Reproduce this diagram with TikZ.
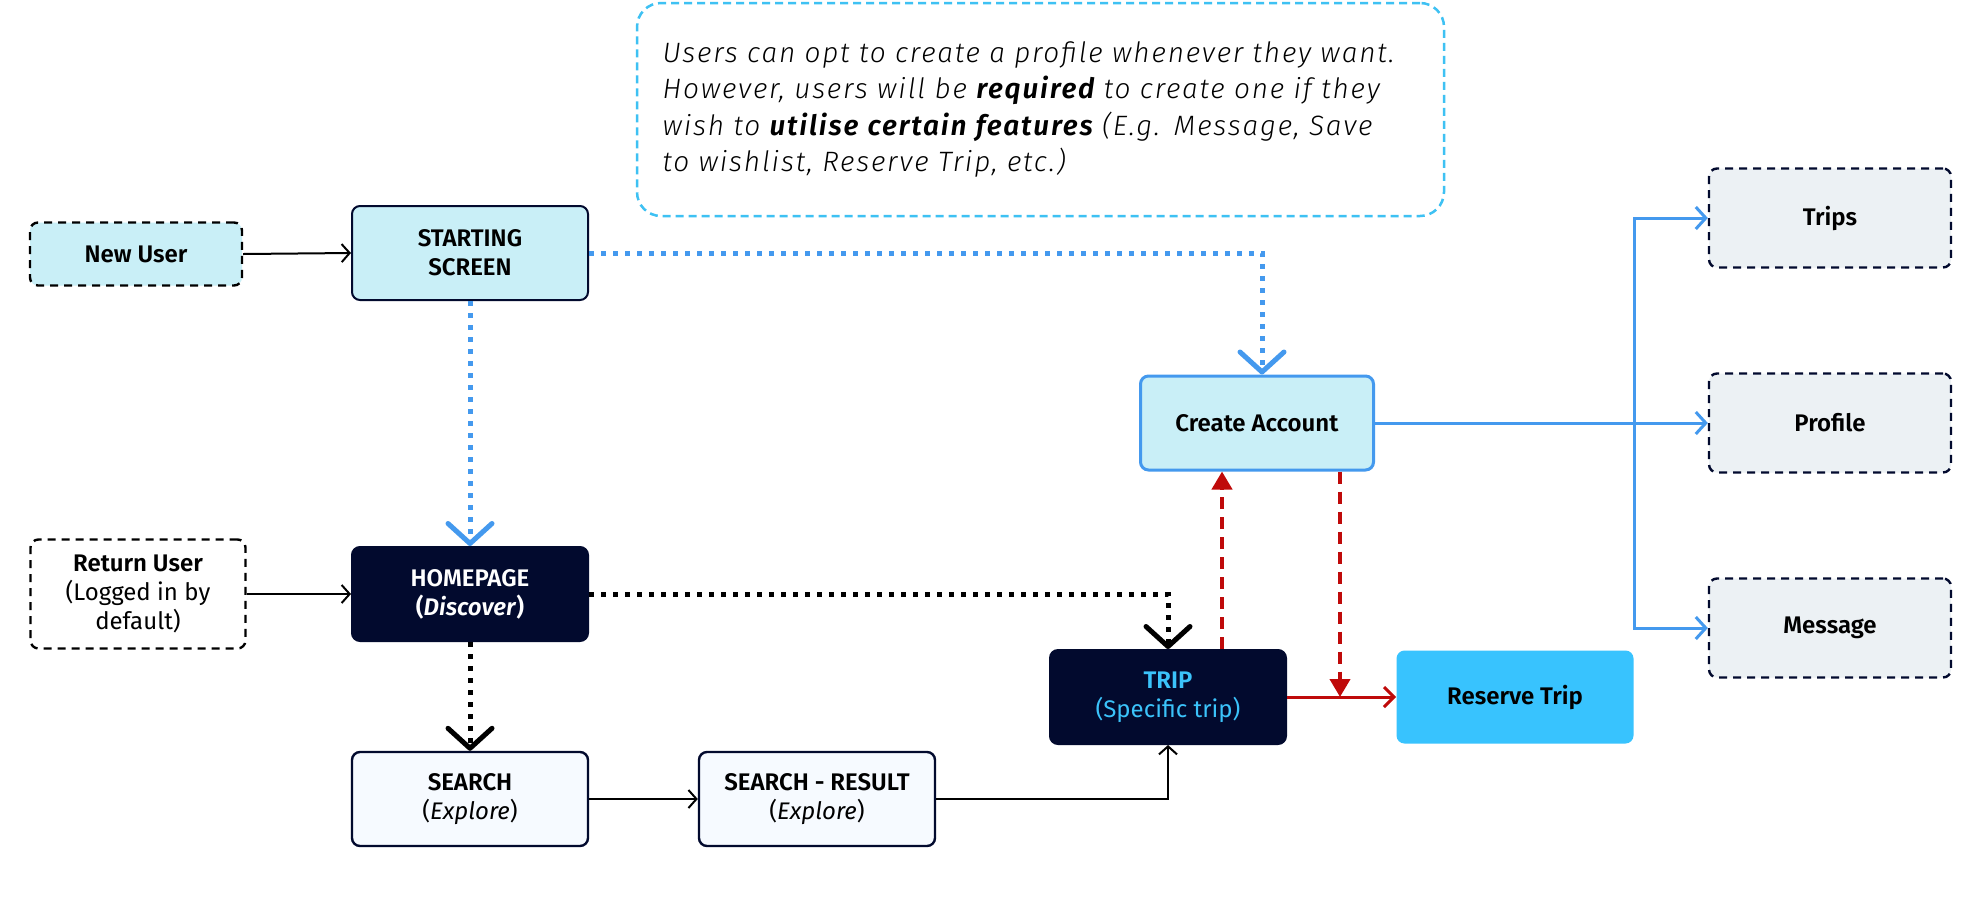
\documentclass[tikz,border=0pt]{standalone}
\usepackage{fontspec}
\setmainfont{Fira Sans}[BoldFont={Fira Sans SemiBold},BoldItalicFont={Fira Sans SemiBold Italic}]
\newfontfamily\notefont{Fira Sans Light}[ItalicFont={Fira Sans Light Italic},BoldItalicFont={Fira Sans SemiBold Italic},LetterSpace=6.5]
\usetikzlibrary{arrows.meta,backgrounds}
\definecolor{cyanfill}{HTML}{C9EFF7}
\definecolor{navy}{HTML}{020A2E}
\definecolor{searchfill}{HTML}{F6FAFF}
\definecolor{grayfill}{HTML}{ECF1F4}
\definecolor{reservefill}{HTML}{38C3FE}
\definecolor{blueline}{HTML}{4499EE}
\definecolor{noteblue}{HTML}{3EC1F3}
\definecolor{darkred}{HTML}{BF0A0A}
\definecolor{tripcyan}{HTML}{3BC3FA}
\newcommand{\lblfont}{\fontsize{12}{14.5}\selectfont}
\tikzset{
  basebox/.style={rectangle, rounded corners=4pt, align=center, font=\lblfont, inner sep=2pt},
  mainbox/.style={basebox, minimum width=118pt, minimum height=47pt},
  ssbox/.style={mainbox, fill=cyanfill, draw=navy, line width=1pt},
  darkbox/.style={mainbox, fill=navy, draw=navy, line width=1pt},
  srchbox/.style={mainbox, fill=searchfill, draw=navy, line width=1.2pt},
  userbox/.style={basebox, draw=black, line width=1.2pt, dash pattern=on 4pt off 3pt},
  sidebox/.style={basebox, minimum width=121pt, minimum height=49.5pt, fill=grayfill, draw=navy, line width=1.2pt, dash pattern=on 4pt off 3pt},
  cabox/.style={basebox, minimum width=116.5pt, minimum height=47pt, fill=cyanfill, draw=blueline, line width=1.5pt},
  resbox/.style={basebox, minimum width=118.5pt, minimum height=46.5pt, fill=reservefill},
  notebox/.style={draw=noteblue, line width=1.25pt, dash pattern=on 4pt off 2.5pt, rounded corners=12pt, minimum width=403.5pt, minimum height=106.5pt, align=left, text width=378pt, inner sep=0pt, font=\notefont\fontsize{14}{18.3}\selectfont},
  solidarrow/.style={draw=black, line width=1pt, -{Straight Barb[length=4pt,width=9pt,line width=1pt]}},
  bluedot/.style={draw=blueline, line width=2.5pt, dash pattern=on 2.5pt off 3.5pt, -{Straight Barb[length=10pt,width=22pt,line width=2.5pt,round]}},
  blackdot/.style={draw=black, line width=2.5pt, dash pattern=on 2.5pt off 3.5pt, -{Straight Barb[length=10pt,width=22pt,line width=2.5pt,round]}},
  blueconn/.style={draw=blueline, line width=1.5pt},
  bluearrow/.style={blueconn, -{Straight Barb[length=5pt,width=11pt,line width=1.5pt]}},
  redarrow/.style={draw=darkred, line width=1.5pt, -{Straight Barb[length=5pt,width=10pt,line width=1.5pt]}},
  reddash/.style={draw=darkred, line width=2pt, dash pattern=on 6pt off 4pt, -{Triangle[length=9pt,width=10pt]}},
}
\begin{document}
\begin{tikzpicture}[x=0.5pt,y=-0.5pt]
\useasboundingbox (0,0) rectangle (1979,906);
\fill[white] (0,0) rectangle (1979,906);

% note
\node[notebox] (note) at (1040.5,109.5) {\itshape Users can opt to create a profile whenever they want.\\ However, users will be \textbf{required} to create one if they\\ wish to \textbf{utilise certain features} (E.g. Message, Save\\ to wishlist, Reserve Trip, etc.)};

% nodes
\node[userbox, fill=cyanfill, minimum width=106pt, minimum height=31.5pt] (nu) at (136,254) {\textbf{New User}};
\node[ssbox] (ss) at (470,253) {\textbf{STARTING}\\\textbf{SCREEN}};
\node[userbox, fill=white, minimum width=107.5pt, minimum height=54.5pt] (ru) at (138,594) {\textbf{Return User}\\(Logged in by\\default)};
\node[darkbox, text=white] (hp) at (470,594) {\textbf{HOMEPAGE}\\\textbf{(\textit{Discover})}};
\node[srchbox] (se) at (470,799) {\textbf{SEARCH}\\(\textit{Explore})};
\node[srchbox] (sr) at (817,799) {\textbf{SEARCH - RESULT}\\(\textit{Explore})};
\node[darkbox, text=tripcyan] (tr) at (1168,697) {\textbf{TRIP}\\(Specific trip)};
\node[cabox] (ca) at (1257,423) {\textbf{Create Account}};
\node[resbox] (rt) at (1515,697) {\textbf{Reserve Trip}};
\node[sidebox] (tp) at (1830,218) {\textbf{Trips}};
\node[sidebox] (pf) at (1830,423) {\textbf{Profile}};
\node[sidebox] (ms) at (1830,628) {\textbf{Message}};
\coordinate (br) at (1634,423);

% glow of reserve trip
\begin{scope}[on background layer]
\foreach \g/\o in {18/0.08,13/0.1,9/0.13,5/0.2}{
  \fill[reservefill, opacity=\o, rounded corners=7pt] ([xshift=-\g*0.5pt,yshift=-\g*0.5pt]rt.south west) rectangle ([xshift=\g*0.5pt,yshift=\g*0.5pt]rt.north east);
}
\end{scope}

% connectors
\draw[solidarrow] (nu.east) -- (ss.west);
\draw[solidarrow] (ru.east |- hp.west) -- (hp.west);
\draw[bluedot] (ss.south) -- (hp.north);
\draw[bluedot] (ss.east) -| ([xshift=2.5pt]ca.north);
\draw[blackdot] (hp.east) -| (tr.north);
\draw[blackdot] (hp.south) -- (se.north);
\draw[solidarrow] (se.east) -- (sr.west);
\draw[solidarrow] (sr.east) -| (tr.south);
\draw[redarrow] (tr.east) -- (rt.west);
\draw[reddash] ([xshift=27pt]tr.north) -- ([xshift=27pt]tr.north |- ca.south);
\draw[reddash] ([xshift=41.5pt]ca.south) -- ([xshift=41.5pt]ca.south |- tr.east);
\draw[bluearrow] (ca.east) -- (pf.west);
\draw[bluearrow] (br) |- (tp.west);
\draw[bluearrow] (br) |- (ms.west);
\end{tikzpicture}
\end{document}
